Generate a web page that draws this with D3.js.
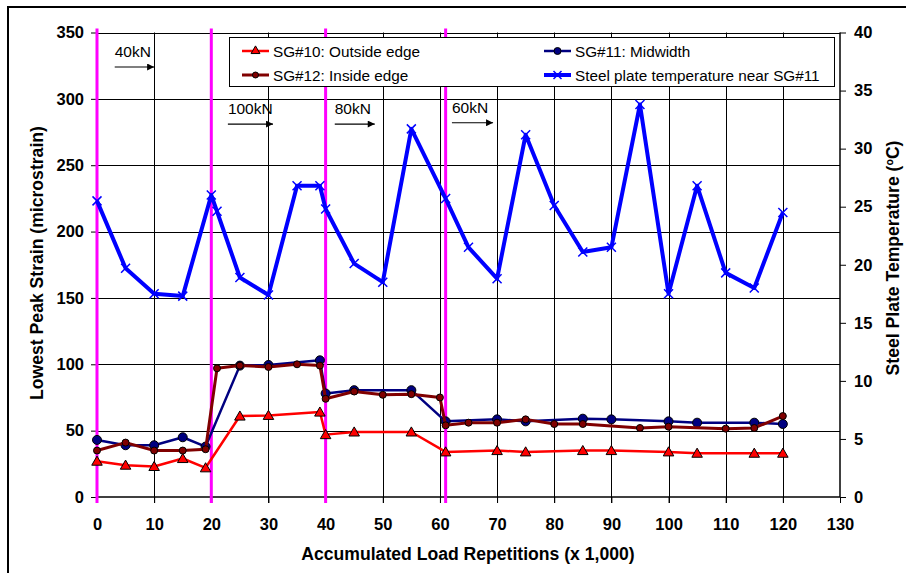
<!DOCTYPE html>
<html><head><meta charset="utf-8">
<script src="https://cdn.jsdelivr.net/npm/d3@7"></script>
<style>
body{margin:0;background:#fff;}
text{font-family:"Liberation Sans",Arial,sans-serif;}
</style></head>
<body><svg id="c" width="906" height="573"></svg>
<script>
// ---- data ----
const sg10X = [0,5,10,15,19,25,30,39,40,45,55,61,70,75,85,90,100,105,115,120];
const sg10Y = [27,24,23,29,22,61,61.5,64,47,49,49,34,35,34,35,35,34,33,33,33];
const sg11X = [0,5,10,15,19,25,30,39,40,45,55,61,70,75,85,90,100,105,115,120];
const sg11Y = [43,39,39,45,38,99,99.5,103,78,80.5,80.5,57,58.5,57,59,58.5,57,56,56,55];
const sg12X = [0,5,10,15,19,21,25,30,35,39,40,45,50,55,60,61,65,70,75,80,85,95,100,110,115,120];
const sg12Y = [35,41,35,35,36,97,99,98,100,99,74,79.5,77,77.5,75,54,56,56,58.5,55,55,52,53,51.5,52,61];
const tempX = [0,5,10,15,20,21,25,30,35,39,40,45,50,55,61,65,70,75,80,85,90,95,100,105,110,115,120];
const tempY = [25.5,19.7,17.5,17.3,26.0,24.6,18.9,17.4,26.8,26.8,24.8,20.1,18.5,31.7,25.7,21.5,18.8,31.2,25.1,21.1,21.5,33.8,17.5,26.8,19.3,18.0,24.5];
const loadChangeX = [0,20,40,61];
const loadLabels = ["40kN","100kN","80kN","60kN"];
const loadLabelX = [3.1,22.9,41.6,62.1];
const loadArrowEndX = [10,30.8,48.6,69.3];
const loadLabelLevel = [324,281,281,282];
const xTicks = d3.range(0,131,10);
const yTicks = d3.range(0,351,50);
const y2Ticks = d3.range(0,41,5);
const legendNames = ["SG#10: Outside edge","SG#11: Midwidth","SG#12: Inside edge","Steel plate temperature near SG#11"];

const svg = d3.select("#c");
const x = d3.scaleLinear().domain([0,130]).range([97,840]);
const y = d3.scaleLinear().domain([0,350]).range([497,32.5]);
const y2 = d3.scaleLinear().domain([0,40]).range([497,32.5]);

// outer border
svg.append("rect").attr("x",8).attr("y",7).attr("width",920).attr("height",600)
  .attr("fill","none").attr("stroke","#000").attr("stroke-width",2);

// grid
const g = svg.append("g");
g.selectAll(".vg").data(xTicks.filter(d=>d>0 && d<130)).enter().append("line")
  .attr("x1",d=>Math.round(x(d))+0.5).attr("x2",d=>Math.round(x(d))+0.5)
  .attr("y1",y(350)).attr("y2",y(0)+6).attr("stroke","#000").attr("stroke-width",1);
g.selectAll(".hg").data(yTicks.filter(d=>d>0)).enter().append("line")
  .attr("x1",x(0)).attr("x2",x(130)).attr("y1",d=>Math.round(y(d))+0.5).attr("y2",d=>Math.round(y(d))+0.5)
  .attr("stroke","#000").attr("stroke-width",1);

// axes
const axL = d3.axisLeft(y).tickValues(yTicks).tickSize(6).tickPadding(7);
const gl = svg.append("g").attr("transform",`translate(${x(0)},0)`).call(axL);
const axB = d3.axisBottom(x).tickValues(xTicks).tickSize(6).tickPadding(15);
const gb = svg.append("g").attr("transform",`translate(0,${y(0)})`).call(axB);
const axR = d3.axisRight(y2).tickValues(y2Ticks).tickSize(6).tickPadding(8);
const gr = svg.append("g").attr("transform",`translate(${x(130)},0)`).call(axR);
[gl,gb,gr].forEach(a=>{
  a.selectAll("path").attr("stroke","#000").attr("stroke-width",1.5);
  a.selectAll("line").attr("stroke","#000");
  a.selectAll("text").attr("font-size",16.5).attr("font-weight","bold").attr("fill","#000")
   .attr("font-family","'Liberation Sans',Arial,sans-serif");
});
gl.select("path").remove();
gl.append("line").attr("x1",0).attr("x2",0).attr("y1",y(0)).attr("y2",y(350)).attr("stroke","#000").attr("stroke-width",1.5);
gr.select("path").remove();
gr.append("line").attr("x1",0).attr("x2",0).attr("y1",y(0)).attr("y2",y(350)).attr("stroke","#000").attr("stroke-width",1.5);
gb.select("path").remove();
gb.append("line").attr("x1",x(0)).attr("x2",x(130)).attr("y1",0).attr("y2",0).attr("stroke","#000").attr("stroke-width",1.5);

// axis titles
svg.append("text").attr("x",468).attr("y",560).attr("text-anchor","middle")
  .attr("font-size",17.6).attr("font-weight","bold").text("Accumulated Load Repetitions (x 1,000)");
svg.append("text").attr("transform","translate(43,263) rotate(-90)").attr("text-anchor","middle")
  .attr("font-size",17.6).attr("font-weight","bold").text("Lowest Peak Strain (microstrain)");
svg.append("text").attr("transform","translate(899,258) rotate(-90)").attr("text-anchor","middle")
  .attr("font-size",17.6).attr("font-weight","bold").text("Steel Plate Temperature (ºC)");

// magenta load-change lines
svg.selectAll(".mg").data(loadChangeX).enter().append("line")
  .attr("x1",d=>x(d)).attr("x2",d=>x(d)).attr("y1",y(350)-4).attr("y2",y(0)+6)
  .attr("stroke","#FF00FF").attr("stroke-width",3);

// load annotations
svg.append("defs").append("marker").attr("id","ah").attr("viewBox","0 0 10 10")
  .attr("refX",10).attr("refY",5).attr("markerWidth",9).attr("markerHeight",7)
  .attr("markerUnits","userSpaceOnUse").attr("orient","auto")
  .append("path").attr("d","M0,0 L10,5 L0,10 Z").attr("fill","#000");
loadLabels.forEach((t,i)=>{
  const lx = x(loadLabelX[i]);
  const ly = y(loadLabelLevel[i]);
  svg.append("text").attr("x",lx).attr("y",ly-10).attr("font-size",15.5).text(t);
  svg.append("line").attr("x1",lx).attr("x2",x(loadArrowEndX[i])).attr("y1",ly).attr("y2",ly)
    .attr("stroke","#000").attr("stroke-width",1.2).attr("marker-end","url(#ah)");
});

// series
const line = d3.line().x(d=>x(d[0])).y(d=>y(d[1]));
const line2 = d3.line().x(d=>x(d[0])).y(d=>y2(d[1]));
const z = (a,b)=>a.map((v,i)=>[v,b[i]]);
const tri = d3.symbol().type(d3.symbolTriangle).size(48);

function drawStrain(X,Y,color,w,marker){
  const d = z(X,Y);
  svg.append("path").attr("d",line(d)).attr("fill","none").attr("stroke",color).attr("stroke-width",w).attr("stroke-linejoin","round");
  const m = svg.append("g");
  d.forEach(p=>{
    if(marker.type==="tri") m.append("path").attr("d",tri()).attr("transform",`translate(${x(p[0])},${y(p[1])+1})`)
      .attr("fill",color).attr("stroke","#000").attr("stroke-width",1);
    else m.append("circle").attr("cx",x(p[0])).attr("cy",y(p[1])).attr("r",marker.r)
      .attr("fill",color).attr("stroke","#000").attr("stroke-width",1);
  });
}
drawStrain(sg10X,sg10Y,"#FF0000",2.5,{type:"tri"});
drawStrain(sg11X,sg11Y,"#000080",2.5,{type:"c",r:4.5});
drawStrain(sg12X,sg12Y,"#800000",3,{type:"c",r:3.5});

const td = z(tempX,tempY);
svg.append("path").attr("d",line2(td)).attr("fill","none").attr("stroke","#0000FF").attr("stroke-width",4).attr("stroke-linejoin","round");
svg.selectAll(".tx").data(td).enter().append("path")
  .attr("d","M-4.5,-4.5L4.5,4.5M-4.5,4.5L4.5,-4.5").attr("transform",d=>`translate(${x(d[0])},${y2(d[1])})`)
  .attr("stroke","#0000FF").attr("stroke-width",1.5).attr("fill","none");

// legend
const lg = svg.append("g");
lg.append("rect").attr("x",229.5).attr("y",37.5).attr("width",605).attr("height",49)
  .attr("fill","#fff").attr("stroke","#000").attr("stroke-width",1);
const legPos = [[242,51],[544,51],[242,75],[544,75]];
const legStyle = [
  {c:"#FF0000",w:2.5,m:"tri"},{c:"#000080",w:2.5,m:"c",r:3.5},
  {c:"#800000",w:3,m:"c",r:3},{c:"#0000FF",w:4,m:"x"}];
legendNames.forEach((n,i)=>{
  const [lx,ly] = legPos[i], s = legStyle[i];
  lg.append("line").attr("x1",lx).attr("x2",lx+27).attr("y1",ly).attr("y2",ly).attr("stroke",s.c).attr("stroke-width",s.w);
  const cx = lx+13.5;
  if(s.m==="tri") lg.append("path").attr("d",d3.symbol().type(d3.symbolTriangle).size(34)()).attr("transform",`translate(${cx},${ly})`).attr("fill",s.c).attr("stroke","#000");
  else if(s.m==="c") lg.append("circle").attr("cx",cx).attr("cy",ly).attr("r",s.r).attr("fill",s.c).attr("stroke","#000");
  else lg.append("path").attr("d","M-4,-4L4,4M-4,4L4,-4").attr("transform",`translate(${cx},${ly})`).attr("stroke",s.c).attr("stroke-width",1.5);
  lg.append("text").attr("x",lx+31).attr("y",ly+5.5).attr("font-size",15.3).text(n);
});
</script></body></html>
